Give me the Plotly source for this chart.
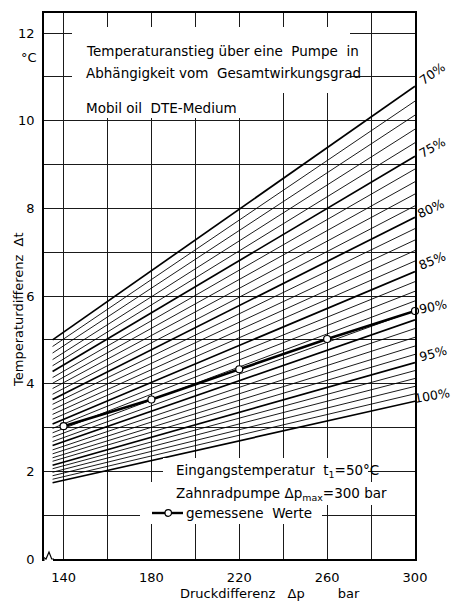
import plotly.graph_objects as go

# ---- data ----
efficiency = [70, 71, 72, 73, 74, 75, 76, 77, 78, 79, 80, 81, 82, 83, 84, 85,
              86, 87, 88, 89, 90, 91, 92, 93, 94, 95, 96, 97, 98, 99, 100]
p_start = 135
p_end = 300
dt_start = [5.00, 4.85, 4.70, 4.55, 4.41, 4.28, 4.14, 4.01, 3.89, 3.76, 3.64,
            3.53, 3.41, 3.30, 3.19, 3.08, 2.98, 2.88, 2.78, 2.68, 2.59, 2.49,
            2.40, 2.31, 2.23, 2.14, 2.06, 1.98, 1.90, 1.82, 1.74]
dt_end = [10.79, 10.45, 10.13, 9.81, 9.50, 9.19, 8.90, 8.61, 8.33, 8.06, 7.80,
          7.54, 7.28, 7.04, 6.80, 6.56, 6.33, 6.11, 5.89, 5.67, 5.46, 5.26,
          5.06, 4.86, 4.67, 4.48, 4.30, 4.12, 3.94, 3.77, 3.60]

measured_p = [140, 180, 220, 260, 300]
measured_dt = [3.03, 3.64, 4.33, 5.02, 5.66]

x_ticks = [140, 160, 180, 200, 220, 240, 260, 280, 300]
x_ticktext = ["140", "", "180", "", "220", "", "260", "", "300"]
y_ticks = [0, 1, 2, 3, 4, 5, 6, 7, 8, 9, 10, 11, 12]
y_ticktext = ["0", "", "2", "", "4", "", "6", "", "8", "", "10", "", "12"]

right_labels = ["70%", "75%", "80%", "85%", "90%", "95%", "100%"]

FONT = "DejaVu Sans"
W, H = 451, 603
L, R, T, B = 44, 415, 13, 559


def px(x):
    return (x - L) / (R - L)


def py(y):
    return (B - y) / (B - T)


fig = go.Figure()

for eff, s, e in zip(efficiency, dt_start, dt_end):
    thick = eff % 5 == 0
    fig.add_trace(go.Scatter(
        x=[p_start, p_end], y=[s, e], mode="lines",
        line=dict(color="black", width=1.7 if thick else 0.9),
        showlegend=False, hoverinfo="skip"))

fig.add_trace(go.Scatter(
    x=measured_p, y=measured_dt, mode="lines+markers",
    line=dict(color="black", width=2.6),
    marker=dict(symbol="circle", size=7, color="white",
                line=dict(color="black", width=1.2)),
    showlegend=False, cliponaxis=False))

shapes = []
# white boxes behind text (hide grid lines)
for (x0, x1, y0, y1) in [(72, 350, 27, 93), (72, 250, 93, 118),
                         (163, 368, 458, 482), (140, 390, 482, 505),
                         (140, 322, 505, 524)]:
    shapes.append(dict(type="rect", xref="paper", yref="paper",
                       x0=px(x0), x1=px(x1), y0=py(y1), y1=py(y0),
                       fillcolor="white", line=dict(width=0), layer="above"))
# legend sample line + circle
shapes.append(dict(type="line", xref="paper", yref="paper",
                   x0=px(152), x1=px(183), y0=py(513), y1=py(513),
                   line=dict(color="black", width=2.4), layer="above"))
shapes.append(dict(type="circle", xref="paper", yref="paper",
                   x0=px(165), x1=px(171.5), y0=py(516.3), y1=py(509.7),
                   fillcolor="white", line=dict(color="black", width=1.2),
                   layer="above"))
# axis break zigzag
shapes.append(dict(type="rect", xref="paper", yref="paper",
                   x0=px(44.5), x1=px(53), y0=py(561), y1=py(556),
                   fillcolor="white", line=dict(width=0), layer="above"))
shapes.append(dict(type="path", xref="paper", yref="paper",
                   path="M {} {} L {} {} L {} {} L {} {} L {} {}".format(
                       px(43), py(557), px(46), py(559), px(49), py(552),
                       px(51.7), py(559), px(54), py(559)),
                   line=dict(color="black", width=1.2), layer="above"))
fig.update_layout(shapes=shapes)

ann = []


def text(x, y, s, size=13.5, xanchor="left", angle=0):
    ann.append(dict(xref="paper", yref="paper", x=px(x), y=py(y), text=s,
                    showarrow=False, xanchor=xanchor, yanchor="middle",
                    textangle=angle,
                    font=dict(family=FONT, size=size, color="black")))


text(84, 51, "Temperaturanstieg über eine  Pumpe  in")
text(84, 73, "Abhängigkeit vom  Gesamtwirkungsgrad")
text(84, 108, "Mobil oil  DTE-Medium")
text(174, 471, "Eingangstemperatur  t<sub>1</sub>=50°C")
text(174, 494, "Zahnradpumpe Δp<sub>max</sub>=300 bar")
text(184, 513, "gemessene  Werte")
text(39, 57, "°C", size=13, xanchor="right")
text(270, 593, "Druckdifferenz   Δp        bar", size=13, xanchor="center")
ann.append(dict(xref="paper", yref="paper", x=px(18), y=py(310),
                text="Temperaturdifferenz  Δt", showarrow=False,
                xanchor="center", yanchor="middle", textangle=-90,
                font=dict(family=FONT, size=13, color="black")))

label_pos = [(432, 73, -35), (432, 147, -30), (431, 209, -25),
             (432, 260, -22), (433, 306, -12), (433, 353, -15),
             (432, 395, -10)]
for lab, (x, y, a) in zip(right_labels, label_pos):
    text(x, y, lab, size=12.5, xanchor="center", angle=a)

fig.update_layout(annotations=ann)

axis_common = dict(showline=True, linecolor="black", linewidth=1.5,
                   mirror=True, showgrid=True, gridcolor="#1a1a1a",
                   gridwidth=1, zeroline=False, ticks="",
                   tickfont=dict(family=FONT, size=13, color="black"))

fig.update_xaxes(range=[131.1, 300], tickmode="array", tickvals=x_ticks,
                 ticktext=x_ticktext, ticklabelstandoff=6, **axis_common)
fig.update_yaxes(range=[0, 12.46], tickmode="array", tickvals=y_ticks,
                 ticktext=y_ticktext, ticklabelstandoff=5, **axis_common)

fig.update_layout(width=W, height=H,
                  margin=dict(l=L, r=W - R, t=T, b=H - B),
                  paper_bgcolor="white", plot_bgcolor="white",
                  font=dict(family=FONT, size=13, color="black"))

fig.write_html("out.html")
